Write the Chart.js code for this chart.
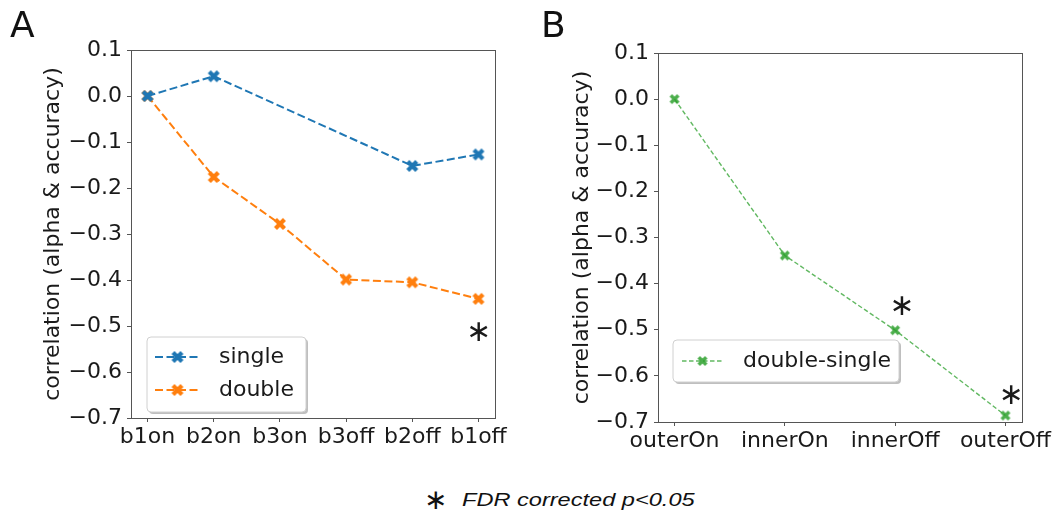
<!DOCTYPE html>
<html>
<head>
<meta charset="utf-8">
<script src="https://cdn.jsdelivr.net/npm/chart.js@4.4.1/dist/chart.umd.min.js"></script>
<style>
  body { margin: 0; background: #fff; width: 1060px; height: 512px; position: relative; overflow: hidden; font-family: "DejaVu Sans", sans-serif; }
  .panel { position: absolute; top: 0; width: 530px; height: 470px; }
  .letter { position: absolute; top: 7px; font-size: 36px; line-height: 36px; color: #111; }
  .star { position: absolute; left: 424px; top: 486px; font-size: 28px; line-height: 28px; color: #111; }
  .fdr { position: absolute; left: 462px; top: 491px; font: italic 18px/18px "Liberation Sans", Arial, sans-serif; color: #111;
         transform: scaleX(1.31); transform-origin: left top; white-space: nowrap; }
</style>
</head>
<body>
<div class="panel" style="left:0"><canvas id="chartA" width="530" height="470"></canvas></div>
<div class="panel" style="left:530px"><canvas id="chartB" width="530" height="470"></canvas></div>
<div class="letter" style="left:10px">A</div>
<div class="letter" style="left:541px">B</div>
<span class="star">∗</span>
<span class="fdr">FDR corrected p&lt;0.05</span>

<script>
// panel A
const labelsA = ["b1on", "b2on", "b3on", "b3off", "b2off", "b1off"];
const singleVals = [0.0, 0.043, null, null, -0.152, -0.127];
const doubleVals = [0.0, -0.176, -0.278, -0.399, -0.405, -0.441];
const starsA = [[5, -0.512]];

// panel B
const labelsB = ["outerOn", "innerOn", "innerOff", "outerOff"];
const diffVals = [0.0, -0.339, -0.501, -0.686];
const starsB = [[2.06, -0.448], [3.05, -0.64]];

const yTicks = [0.1, 0.0, -0.1, -0.2, -0.3, -0.4, -0.5, -0.6, -0.7];
const yTitle = "correlation (alpha & accuracy)";

const BLUE = "#1f77b4";
const ORANGE = "#ff7f0e";
const GREEN = "rgba(44,160,44,0.75)";
const FONT = "DejaVu Sans";
const TEXT = "#1a1a1a";
const AXIS = "#555";

// filled 'X' marker, same outline as matplotlib's
function makeX(color, size) {
  const c = document.createElement("canvas");
  c.width = c.height = size + 2;
  const g = c.getContext("2d");
  const k = size / 4;
  const pts = [[-1,-2],[0,-1],[1,-2],[2,-1],[1,0],[2,1],[1,2],[0,1],[-1,2],[-2,1],[-1,0],[-2,-1]];
  g.translate(c.width / 2, c.height / 2);
  g.beginPath();
  pts.forEach(([x, y], i) => i ? g.lineTo(x * k, y * k) : g.moveTo(x * k, y * k));
  g.closePath();
  g.fillStyle = color;
  g.fill();
  return c;
}

function toPoints(vals) {
  return vals.map((v, i) => ({ x: i, y: v }));
}

function fmt(v) {
  const s = (Math.round(v * 10) / 10).toFixed(1);
  return s.replace("-", "\u2212");
}

// box, legend and stars drawn on top of the chart
function overlay(legend, stars) {
  return {
    id: "overlay",
    afterDraw(chart) {
      const ctx = chart.ctx;
      const a = chart.chartArea;
      ctx.save();
      ctx.strokeStyle = AXIS;
      ctx.lineWidth = 1;
      ctx.strokeRect(Math.round(a.left) + 0.5, Math.round(a.top) + 0.5,
                     Math.round(a.right - a.left), Math.round(a.bottom - a.top));

      // stars
      ctx.fillStyle = TEXT;
      ctx.font = "30px " + FONT;
      stars.forEach(([sx, sy]) => {
        const px = chart.scales.x.getPixelForValue(sx);
        const py = chart.scales.y.getPixelForValue(sy);
        const m = ctx.measureText("\u2217");
        const bx = px - (m.actualBoundingBoxRight - m.actualBoundingBoxLeft) / 2;
        const by = py + (m.actualBoundingBoxAscent - m.actualBoundingBoxDescent) / 2;
        ctx.textBaseline = "alphabetic";
        ctx.fillText("\u2217", bx, by);
      });

      // legend
      const L = legend;
      const r = 4;
      function rrect(x, y, w, h) {
        ctx.beginPath();
        ctx.moveTo(x + r, y);
        ctx.arcTo(x + w, y, x + w, y + h, r);
        ctx.arcTo(x + w, y + h, x, y + h, r);
        ctx.arcTo(x, y + h, x, y, r);
        ctx.arcTo(x, y, x + w, y, r);
        ctx.closePath();
      }
      ctx.fillStyle = "rgba(0,0,0,0.25)";
      rrect(L.left + 2, L.top + 2, L.right - L.left, L.bottom - L.top);
      ctx.fill();
      ctx.fillStyle = "#fff";
      ctx.strokeStyle = "#d0d0d0";
      rrect(L.left, L.top, L.right - L.left, L.bottom - L.top);
      ctx.fill();
      ctx.stroke();

      L.items.forEach((it, i) => {
        const ds = chart.data.datasets[i];
        const y = it.y;
        ctx.strokeStyle = ds.borderColor;
        ctx.lineWidth = ds.borderWidth;
        ctx.setLineDash(ds.borderDash);
        ctx.beginPath();
        ctx.moveTo(L.lineX0, y);
        ctx.lineTo(L.lineX1, y);
        ctx.stroke();
        ctx.setLineDash([]);
        const img = ds.pointStyle;
        ctx.drawImage(img, (L.lineX0 + L.lineX1) / 2 - img.width / 2, y - img.height / 2);
        ctx.fillStyle = TEXT;
        ctx.font = "22px " + FONT;
        ctx.textBaseline = "middle";
        ctx.fillText(ds.label, L.textX, y);
      });
      ctx.restore();
    }
  };
}

function makeOptions(labels, pad, titlePad) {
  const n = labels.length - 1;
  const margin = n * 0.05;
  return {
    responsive: false,
    animation: false,
    layout: { padding: { left: 0, top: pad.top, right: pad.right, bottom: 0 } },
    plugins: { legend: { display: false }, tooltip: { enabled: false } },
    scales: {
      x: {
        type: "linear",
        min: -margin,
        max: n + margin,
        afterBuildTicks: s => { s.ticks = labels.map((_, i) => ({ value: i })); },
        afterFit: s => { s.height = pad.xh; },
        ticks: {
          autoSkip: false, maxRotation: 0, padding: 2,
          color: TEXT, font: { family: FONT, size: 22 },
          callback: v => labels[v]
        },
        grid: { drawOnChartArea: false, drawTicks: true, tickLength: 4, tickColor: AXIS },
        border: { display: false }
      },
      y: {
        type: "linear",
        min: -0.7,
        max: 0.1,
        afterBuildTicks: s => { s.ticks = yTicks.map(v => ({ value: v })); },
        afterFit: s => { s.width = pad.yw; },
        ticks: {
          padding: 5, color: TEXT, font: { family: FONT, size: 22 },
          callback: v => fmt(v)
        },
        grid: { drawOnChartArea: false, drawTicks: true, tickLength: 4, tickColor: AXIS },
        border: { display: false },
        title: {
          display: true, text: yTitle, color: TEXT,
          font: { family: FONT, size: 22 },
          padding: { top: titlePad, bottom: 0 }
        }
      }
    }
  };
}

new Chart(document.getElementById("chartA"), {
  type: "line",
  data: {
    datasets: [
      { label: "single", data: toPoints(singleVals), borderColor: BLUE, borderWidth: 2,
        borderDash: [8, 3.5], pointStyle: makeX(BLUE, 12), spanGaps: true, fill: false, tension: 0 },
      { label: "double", data: toPoints(doubleVals), borderColor: ORANGE, borderWidth: 2,
        borderDash: [8, 3.5], pointStyle: makeX(ORANGE, 12), fill: false, tension: 0 }
    ]
  },
  options: makeOptions(labelsA, { top: 50, right: 35, xh: 52, yw: 131 }, 40),
  plugins: [overlay({
    left: 147, top: 337, right: 306, bottom: 412,
    lineX0: 155, lineX1: 200, textX: 219,
    items: [{ y: 357 }, { y: 390 }]
  }, starsA)]
});

new Chart(document.getElementById("chartB"), {
  type: "line",
  data: {
    datasets: [
      { label: "double-single", data: toPoints(diffVals), borderColor: GREEN, borderWidth: 1.4,
        borderDash: [4.5, 2.5], pointStyle: makeX("rgba(44,160,44,0.85)", 10), fill: false, tension: 0 }
    ]
  },
  options: makeOptions(labelsB, { top: 53, right: 38, xh: 48, yw: 128 }, 39),
  plugins: [overlay({
    left: 143, top: 340, right: 369, bottom: 382,
    lineX0: 152, lineX1: 193, textX: 213,
    items: [{ y: 361 }]
  }, starsB)]
});
</script>
</body>
</html>
